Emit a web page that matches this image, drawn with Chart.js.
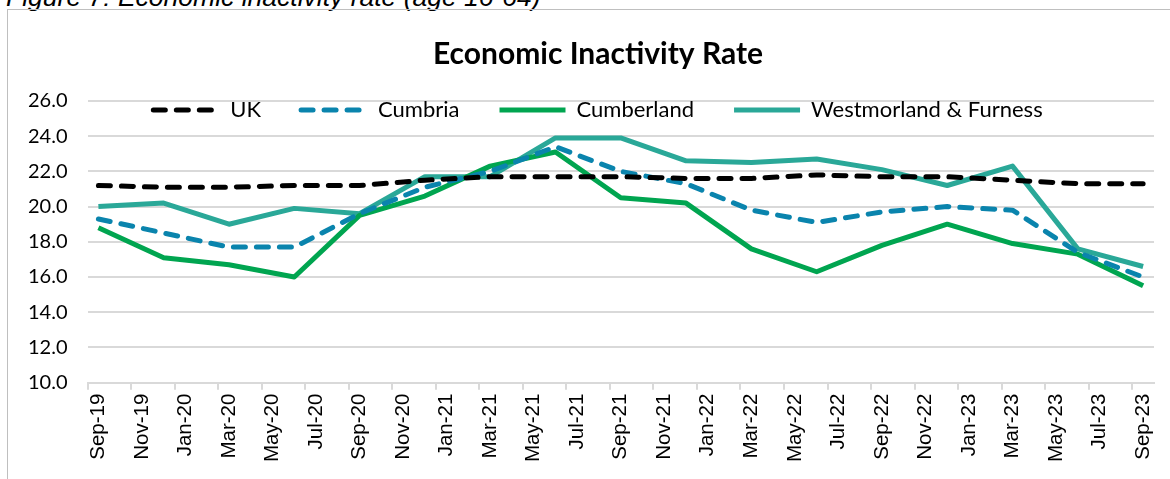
<!DOCTYPE html>
<html>
<head>
<meta charset="utf-8">
<script src="https://cdn.jsdelivr.net/npm/chart.js@4"></script>
<style>
  html, body { margin: 0; padding: 0; background: #fff; overflow: hidden; }
  body { width: 1170px; height: 479px; position: relative; }
  #caption {
    position: absolute; left: 6px; top: -16px;
    font: italic 26.5px "Liberation Sans", Arial, sans-serif; color: #000;
    white-space: nowrap; line-height: 26.5px;
  }
  #frame {
    position: absolute; left: 7px; top: 9px; width: 1300px; height: 600px;
    border-left: 1px solid #bfbfbf; border-top: 1px solid #bfbfbf;
  }
  #wrap { position: absolute; left: 8px; top: 10px; width: 1180px; height: 480px; }
</style>
</head>
<body>
<div id="caption">Figure 7: Economic inactivity rate (age 16-64)</div>
<div id="frame"></div>
<div id="wrap"><canvas id="chart"></canvas></div>
<script>
// monthly category axis, labels shown every 2 months
const months = ['Sep-19', 'Oct-19', 'Nov-19', 'Dec-19', 'Jan-20', 'Feb-20', 'Mar-20', 'Apr-20', 'May-20', 'Jun-20', 'Jul-20', 'Aug-20',
    'Sep-20', 'Oct-20', 'Nov-20', 'Dec-20', 'Jan-21', 'Feb-21', 'Mar-21', 'Apr-21', 'May-21', 'Jun-21', 'Jul-21', 'Aug-21',
    'Sep-21', 'Oct-21', 'Nov-21', 'Dec-21', 'Jan-22', 'Feb-22', 'Mar-22', 'Apr-22', 'May-22', 'Jun-22', 'Jul-22', 'Aug-22',
    'Sep-22', 'Oct-22', 'Nov-22', 'Dec-22', 'Jan-23', 'Feb-23', 'Mar-23', 'Apr-23', 'May-23', 'Jun-23', 'Jul-23', 'Aug-23', 'Sep-23'];

// quarterly observations
const quarters = ['Sep-19', 'Dec-19', 'Mar-20', 'Jun-20', 'Sep-20', 'Dec-20', 'Mar-21', 'Jun-21', 'Sep-21',
    'Dec-21', 'Mar-22', 'Jun-22', 'Sep-22', 'Dec-22', 'Mar-23', 'Jun-23', 'Sep-23'];

const ukRate =          [21.2, 21.1, 21.1, 21.2, 21.2, 21.5, 21.7, 21.7, 21.7, 21.6, 21.6, 21.8, 21.7, 21.7, 21.5, 21.3, 21.3];
const cumbriaRate =     [19.3, 18.5, 17.7, 17.7, 19.6, 21.1, 22.0, 23.4, 22.0, 21.3, 19.8, 19.1, 19.7, 20.0, 19.8, 17.4, 16.0];
const cumberlandRate =  [18.8, 17.1, 16.7, 16.0, 19.5, 20.6, 22.3, 23.1, 20.5, 20.2, 17.6, 16.3, 17.8, 19.0, 17.9, 17.3, 15.5];
const westmorlandRate = [20.0, 20.2, 19.0, 19.9, 19.6, 21.7, 21.7, 23.9, 23.9, 22.6, 22.5, 22.7, 22.1, 21.2, 22.3, 17.6, 16.6];

const yTicks = [10, 12, 14, 16, 18, 20, 22, 24, 26];

const toPoints = (vals) => vals.map((v, i) => ({ x: quarters[i], y: v }));

const mkSeries = (label, vals, color, dashed) => ({
    label,
    data: toPoints(vals),
    borderColor: color,
    backgroundColor: color,
    borderWidth: 5,
    borderDash: dashed ? [12, 11] : [],
    borderCapStyle: dashed ? 'round' : 'butt',
    borderJoinStyle: 'round',
    pointRadius: 0,
    tension: 0,
    fill: false
});

// legend takes no room at the top, then gets moved down into the plot;
// title is centred on the whole canvas like the original
const LEGEND_Y = 100; // canvas y of the legend line
const legendInside = {
    id: 'legendInside',
    beforeLayout(chart) {
        const lg = chart.legend;
        if (!lg || lg._flat) return;
        const fit = lg.fit.bind(lg);
        lg.fit = function () { fit(); this.height = 0; };
        lg._flat = true;
    },
    afterLayout(chart) {
        const lg = chart.legend;
        if (lg) {
            const pad = lg.options.labels.padding;
            const fs = lg.options.labels.font.size;
            lg.left = 0;
            lg.right = chart.width;
            lg.top = LEGEND_Y - pad - fs / 2;
            lg.bottom = lg.top + pad * 2 + fs * 2;
        }
        if (chart.titleBlock) {
            chart.titleBlock.left = 0;
            chart.titleBlock.right = chart.width;
        }
    }
};

new Chart(document.getElementById('chart'), {
    type: 'line',
    data: {
        labels: months,
        datasets: [
            mkSeries('UK', ukRate, '#000000', true),
            mkSeries('Cumbria', cumbriaRate, '#0a84ad', true),
            mkSeries('Cumberland', cumberlandRate, '#00a550', false),
            mkSeries('Westmorland & Furness', westmorlandRate, '#2aa898', false)
        ]
    },
    options: {
        responsive: true,
        maintainAspectRatio: false,
        animation: false,
        layout: { padding: { left: 0, right: 34, top: 0, bottom: 24 } },
        plugins: {
            title: {
                display: true,
                text: 'Economic Inactivity Rate',
                color: '#000',
                font: { family: 'Lato', size: 30, weight: 'bold' },
                padding: { top: 26, bottom: 29 }
            },
            legend: {
                position: 'top',
                align: 'center',
                labels: {
                    usePointStyle: true,
                    pointStyle: 'line',
                    pointStyleWidth: 66,
                    padding: 40,
                    color: '#000',
                    font: { family: 'Lato', size: 22 },
                    generateLabels: (chart) => {
                        const items = Chart.defaults.plugins.legend.labels.generateLabels(chart);
                        items.forEach(it => {
                            const ds = chart.data.datasets[it.datasetIndex];
                            it.lineDash = ds.borderDash;
                            it.lineCap = ds.borderCapStyle;
                            it.lineWidth = ds.borderWidth;
                            it.strokeStyle = ds.borderColor;
                        });
                        return items;
                    }
                }
            },
            tooltip: { enabled: false }
        },
        scales: {
            x: {
                type: 'category',
                offset: true,
                grid: {
                    offset: true,
                    drawOnChartArea: false,
                    drawTicks: true,
                    tickLength: 7,
                    lineWidth: 2,
                    color: (ctx) => (ctx.index % 2 === 0 ? '#d9d9d9' : 'rgba(0,0,0,0)')
                },
                border: { display: true, color: '#d9d9d9', width: 2 },
                ticks: {
                    autoSkip: false,
                    maxRotation: 90,
                    minRotation: 90,
                    padding: 4,
                    color: '#000',
                    font: { family: 'Liberation Sans', size: 20.5 },
                    callback: (v, i) => (i % 2 === 0 ? months[i] : '')
                }
            },
            y: {
                min: yTicks[0],
                max: yTicks[yTicks.length - 1],
                afterBuildTicks: (axis) => { axis.ticks = yTicks.map(v => ({ value: v })); },
                grid: { color: '#d9d9d9', lineWidth: 2, drawTicks: false },
                border: { display: false },
                ticks: {
                    padding: 20,
                    color: '#000',
                    font: { family: 'Lato', size: 20 },
                    callback: (v) => Number(v).toFixed(1)
                }
            }
        }
    },
    plugins: [legendInside]
});
</script>
</body>
</html>
